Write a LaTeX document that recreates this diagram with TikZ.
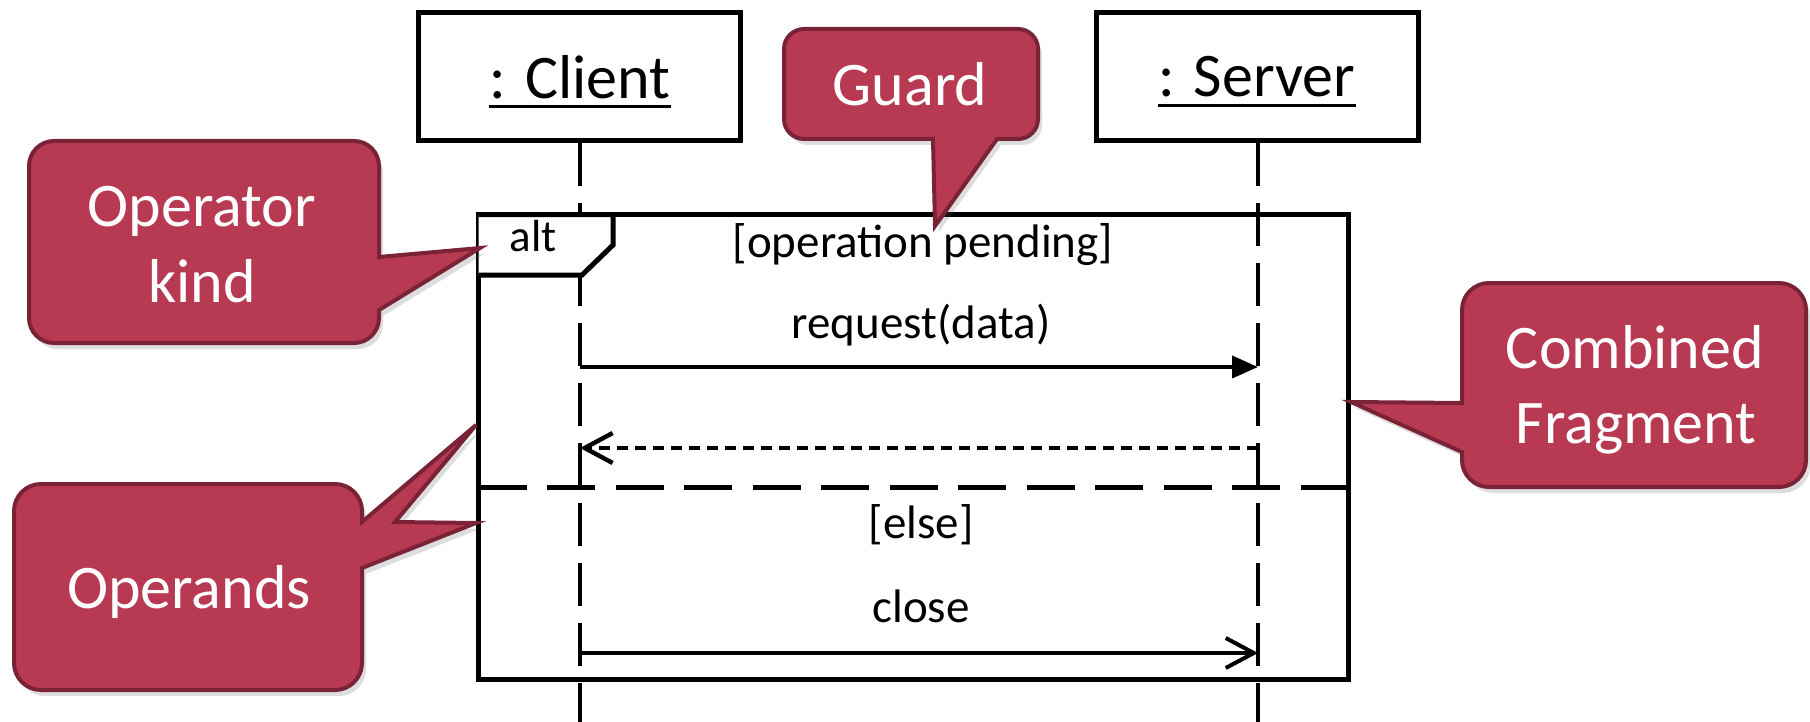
\documentclass[tikz,border=0pt]{standalone}
\usepackage{fontspec}
\setmainfont{Carlito}
\usetikzlibrary{arrows.meta,shadows}
\definecolor{cfill}{RGB}{184,58,82}
\definecolor{cedge}{RGB}{122,35,54}
\newcommand\bigfont{\fontsize{31}{37}\selectfont}
\newcommand\smallfont{\fontsize{23.5}{28}\selectfont}
\begin{document}
\begin{tikzpicture}[x=0.5pt,y=-0.5pt,
  head/.style={draw, line width=2.5pt, minimum width=161pt, minimum height=64pt, inner sep=0pt},
  headtext/.style={font=\bigfont, inner sep=0pt, anchor=base},
  uline/.style={line width=1.5pt},
  lifeline/.style={line width=2.4pt, dash pattern=on 21.5pt off 8.5pt},
  framebox/.style={draw, line width=2.5pt},
  divider/.style={line width=2.5pt, dash pattern=on 24pt off 10.25pt},
  syncmsg/.style={line width=2pt, -{Triangle[length=13pt,width=11pt]}},
  replymsg/.style={line width=2.2pt, dash pattern=on 5.5pt off 3.5pt, -{Straight Barb[length=14pt,width=15pt]}},
  asyncmsg/.style={line width=2pt, -{Straight Barb[length=14pt,width=15pt]}},
  lbl/.style={font=\smallfont, inner sep=0pt, anchor=base},
  callout/.style={fill=cfill, draw=cedge, line width=2pt, line join=miter,
    drop shadow={shadow xshift=2pt, shadow yshift=-3pt, opacity=0.22, fill=black!60}},
  ctext/.style={font=\bigfont, text=white, inner sep=0pt, anchor=base},
]
\useasboundingbox (0,0) rectangle (1810,722);
\fill[white] (0,0) rectangle (1810,722);

% lifeline heads
\node[head] (client) at (579.5,76.5) {};
\node[head] (server) at (1257.5,76.5) {};
\node[headtext] (clientlbl) at (580,98) {: Client};
\node[headtext] (serverlbl) at (1257,97) {: Server};
\draw[uline] ([yshift=-4.5pt]clientlbl.base west) -- ([yshift=-4.5pt]clientlbl.base east);
\draw[uline] ([yshift=-4.5pt]serverlbl.base west) -- ([yshift=-4.5pt]serverlbl.base east);

% lifelines
\coordinate (cbot) at (580,722);
\coordinate (sbot) at (1258,722);
\coordinate (ctop) at (580,143);
\coordinate (stop) at (1258,143);
\draw[lifeline] (ctop) -- (cbot);
\draw[lifeline] (stop) -- (sbot);

% combined fragment
\draw[framebox] (478.5,214.5) rectangle (1348.5,679.5);
\draw[divider] (478.5,487) -- (1348.5,487);
\draw[line width=2.5pt, fill=white, line join=miter] (478.5,214.5) -- (613,214.5) -- (613,245) -- (582,275) -- (478.5,275);
\node[lbl, font=\fontsize{22.5}{27}\selectfont] (alt) at (533,251) {alt};
\node[lbl] (guard1) at (923,257) {[operation pending]};
\node[lbl] (m1) at (921,338) {request(data)};
\node[lbl] (guard2) at (921,538) {[else]};
\node[lbl] (m3) at (921,622) {close};

% messages
\coordinate (c1) at (580,367); \coordinate (s1) at (1258,367);
\coordinate (c2) at (580,448); \coordinate (s2) at (1258,448);
\coordinate (c3) at (580,653); \coordinate (s3) at (1258,653);
\draw[syncmsg] (c1) -- (s1);
\draw[replymsg] (s2) -- (c2);
\draw[asyncmsg] (c3) -- (s3);

% callouts
\path[callout] (804,29) -- (1018,29) arc[start angle=270,end angle=360,radius=20]
  -- (1038,119) arc[start angle=0,end angle=90,radius=20]
  -- (997,139) -- (935,226) -- (933,139)
  -- (804,139) arc[start angle=90,end angle=180,radius=20]
  -- (784,49) arc[start angle=180,end angle=270,radius=20] -- cycle;
\node[ctext] (guardtxt) at (910,105) {Guard};

\path[callout] (54,141) -- (354,141) arc[start angle=270,end angle=360,radius=25]
  -- (379,257) -- (480,248) -- (379,310)
  -- (379,318) arc[start angle=0,end angle=90,radius=25]
  -- (54,343) arc[start angle=90,end angle=180,radius=25]
  -- (29,166) arc[start angle=180,end angle=270,radius=25] -- cycle;
\node[ctext] (optxt1) at (202,227) {Operator};
\node[ctext] (optxt2) at (202,302) {kind};

\path[callout] (41,484) -- (335,484) arc[start angle=270,end angle=360,radius=27]
  -- (362,522) -- (476,425) -- (395,522) -- (476,523) -- (362,568)
  -- (362,663) arc[start angle=0,end angle=90,radius=27]
  -- (41,690) arc[start angle=90,end angle=180,radius=27]
  -- (14,511) arc[start angle=180,end angle=270,radius=27] -- cycle;
\node[ctext] (opdtxt) at (189,608) {Operands};

\path[callout] (1489,283) -- (1779,283) arc[start angle=270,end angle=360,radius=27]
  -- (1806,460) arc[start angle=0,end angle=90,radius=27]
  -- (1489,487) arc[start angle=90,end angle=180,radius=27]
  -- (1462,452) -- (1351,402) -- (1462,403)
  -- (1462,310) arc[start angle=180,end angle=270,radius=27] -- cycle;
\node[ctext] (cftxt1) at (1635,368) {Combined};
\node[ctext] (cftxt2) at (1636,443) {Fragment};
\end{tikzpicture}
\end{document}
